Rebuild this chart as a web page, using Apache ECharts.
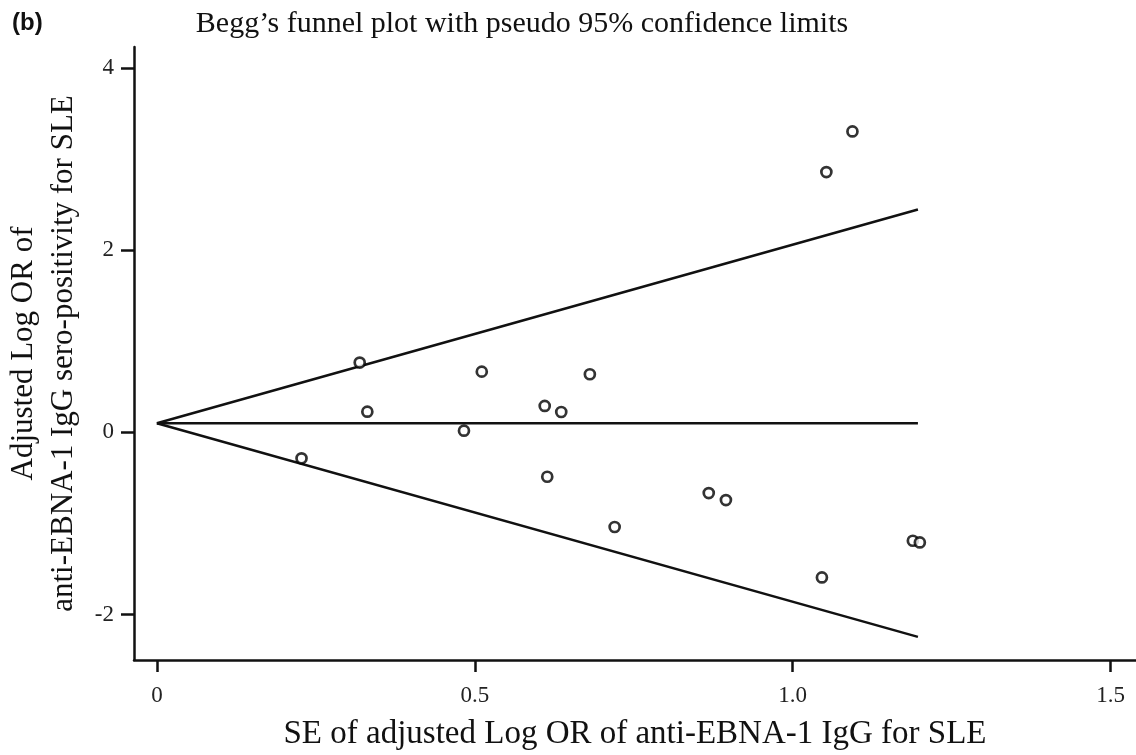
<!DOCTYPE html>
<html>
<head>
<meta charset="utf-8">
<script src="https://cdn.jsdelivr.net/npm/echarts@6/dist/echarts.min.js"></script>
<style>html,body{margin:0;padding:0;background:#fff}#c{width:1136px;height:755px}</style>
</head>
<body>
<div id="c"></div>
<script>
// Study estimates: SE (x) and adjusted log OR (y)
const seValues = [0.2275, 0.319, 0.331, 0.483, 0.511, 0.610, 0.614, 0.636, 0.681, 0.720, 0.868, 0.895, 1.053, 1.094, 1.046, 1.189, 1.200];
const logOrValues = [-0.286, 0.765, 0.226, 0.018, 0.666, 0.289, -0.488, 0.223, 0.637, -1.040, -0.667, -0.744, 2.857, 3.303, -1.593, -1.191, -1.209];
// Pseudo 95% confidence limits
const limitSE = [0, 1.197];
const pooledLine = [0.1, 0.1];
const upperLimit = [0.1, 2.446];
const lowerLimit = [0.1, -2.246];
const xTicks = [0, 0.5, 1.0, 1.5];
const yTicks = [-2, 0, 2, 4];

const serif = "'Liberation Serif', 'DejaVu Serif', serif";
const pair = (xs, ys) => xs.map((x, i) => [x, ys[i]]);
const lineStyle = { color: '#111', width: 2.5 };

const chart = echarts.init(document.getElementById('c'));
chart.setOption({
  animation: false,
  backgroundColor: '#fff',
  title: [
    { text: 'Begg’s funnel plot with pseudo 95% confidence limits', left: 517, top: 4, textAlign: 'center',
      textStyle: { fontFamily: serif, fontWeight: 'normal', fontSize: 30, color: '#111' } },
    { text: '(b)', left: 7, top: 6, textStyle: { fontFamily: "'Liberation Sans', Arial, sans-serif", fontWeight: 'bold', fontSize: 24, color: '#111' } }
  ],
  grid: { left: 134, top: 47, right: 0, bottom: 95, outerBoundsMode: 'none', containLabel: false },
  xAxis: {
    type: 'value', min: -0.036, max: 1.54,
    axisLine: { onZero: false, lineStyle: { color: '#111', width: 2.5 } },
    axisTick: { customValues: xTicks, length: 12, lineStyle: { color: '#111', width: 2.5 } },
    axisLabel: { customValues: xTicks, margin: 24, fontFamily: serif, fontSize: 23, color: '#222',
      formatter: v => (v === 0 ? '0' : v.toFixed(1)) },
    splitLine: { show: false },
    name: 'SE of adjusted Log OR of anti-EBNA-1 IgG for SLE', nameLocation: 'middle', nameGap: 58,
    nameTextStyle: { fontFamily: serif, fontSize: 33, color: '#111' }
  },
  yAxis: {
    type: 'value', min: -2.5, max: 4.23,
    axisLine: { onZero: false, lineStyle: { color: '#111', width: 2.5 } },
    axisTick: { customValues: yTicks, length: 13, lineStyle: { color: '#111', width: 2.5 } },
    axisLabel: { customValues: yTicks, margin: 20, fontFamily: serif, fontSize: 23, color: '#222' },
    splitLine: { show: false },
    name: 'Adjusted Log OR of\nanti-EBNA-1 IgG sero-positivity for SLE', nameLocation: 'middle', nameGap: 45,
    nameTextStyle: { fontFamily: serif, fontSize: 31, lineHeight: 40, color: '#111' }
  },
  series: [
    { type: 'line', data: pair(limitSE, pooledLine), symbol: 'none', lineStyle, silent: true },
    { type: 'line', data: pair(limitSE, upperLimit), symbol: 'none', lineStyle, silent: true },
    { type: 'line', data: pair(limitSE, lowerLimit), symbol: 'none', lineStyle, silent: true },
    { type: 'scatter', data: pair(seValues, logOrValues), symbol: 'circle', symbolSize: 10,
      itemStyle: { color: '#fff', borderColor: '#000', borderWidth: 2.7 }, z: 5 }
  ]
});
</script>
</body>
</html>
